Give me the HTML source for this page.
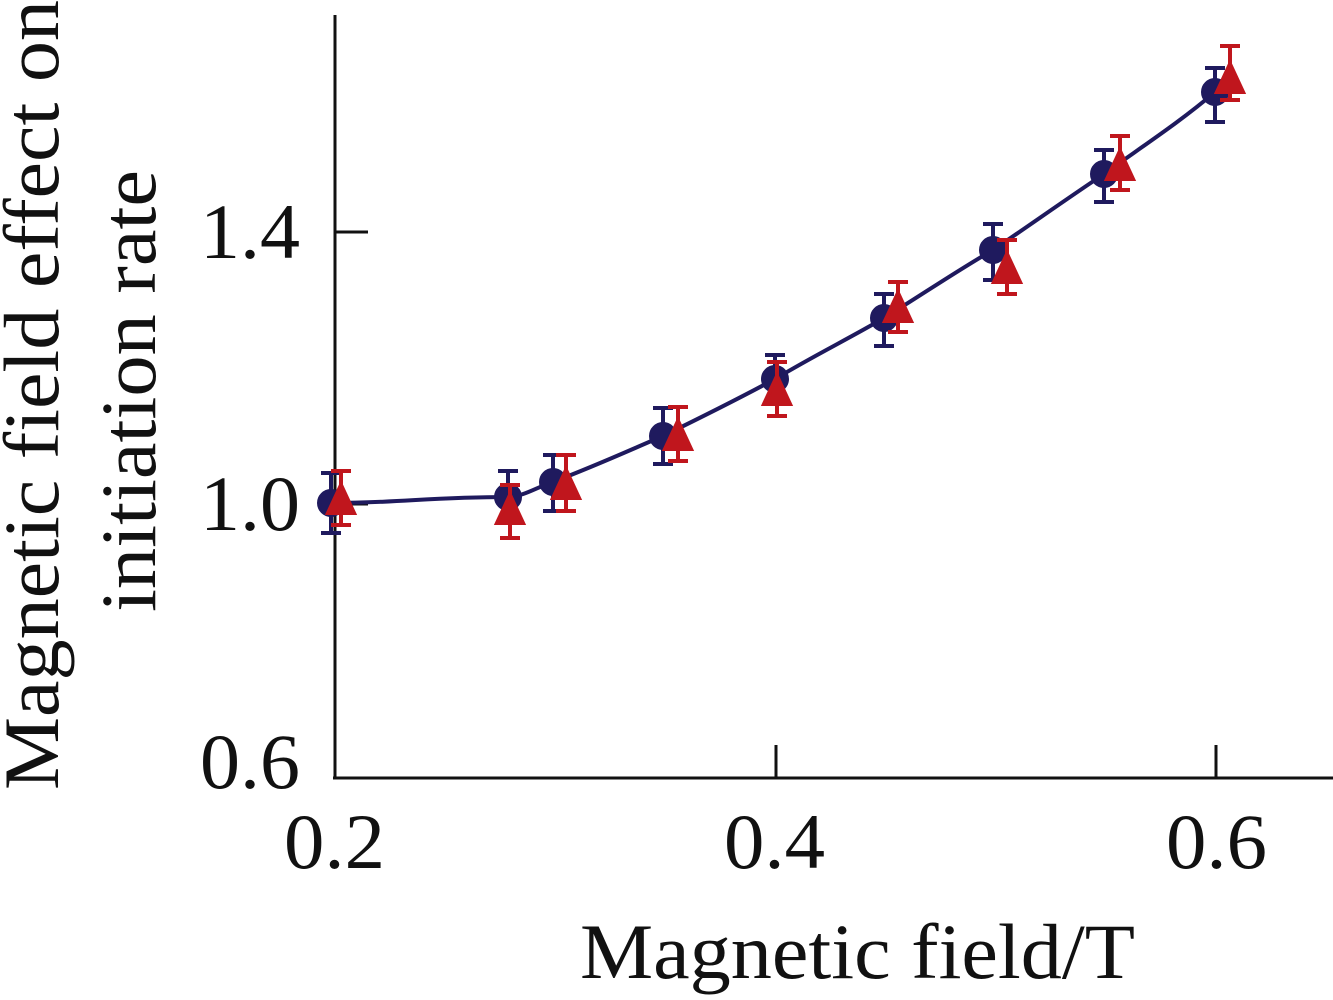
<!DOCTYPE html>
<html><head><style>body{margin:0;background:#fff}</style></head><body>
<svg width="1333" height="995" xmlns="http://www.w3.org/2000/svg" font-family="Liberation Serif, serif">
<rect width="1333" height="995" fill="#fff"/>
<g stroke="#111" stroke-width="3" fill="none">
<line x1="335" y1="15" x2="335" y2="778"/>
<line x1="333" y1="778" x2="1333" y2="778"/>
<line x1="335" y1="232" x2="368" y2="232"/>
<line x1="335" y1="504" x2="368" y2="504"/>
<line x1="776" y1="778" x2="776" y2="745"/>
<line x1="1216" y1="778" x2="1216" y2="745"/>
</g>
<g font-size="78" fill="#111">
<text x="300" y="258" text-anchor="end" textLength="100" lengthAdjust="spacingAndGlyphs">1.4</text>
<text x="300" y="530" text-anchor="end" textLength="100" lengthAdjust="spacingAndGlyphs">1.0</text>
<text x="300" y="788" text-anchor="end" textLength="100" lengthAdjust="spacingAndGlyphs">0.6</text>
<text x="284" y="868" textLength="101" lengthAdjust="spacingAndGlyphs">0.2</text>
<text x="724" y="868" textLength="101" lengthAdjust="spacingAndGlyphs">0.4</text>
<text x="1166" y="868" textLength="101" lengthAdjust="spacingAndGlyphs">0.6</text>
<text x="580" y="978" textLength="555" lengthAdjust="spacingAndGlyphs">Magnetic field/T</text>
<text transform="translate(58,790) rotate(-90)" textLength="790" lengthAdjust="spacingAndGlyphs">Magnetic field effect on</text>
<text transform="translate(155,612) rotate(-90)" textLength="442" lengthAdjust="spacingAndGlyphs">initiation rate</text>
</g>
<path d="M332,503 C400,503 430,497 508,497 C525,496 535,488 553,482 C600,464 630,450 663,436 C710,413 740,398 775,379 C815,355 850,338 884,318 C920,296 955,272 993,250 C1030,225 1065,200 1104,174 C1140,148 1180,122 1215,92" stroke="#1f1a5e" stroke-width="4" fill="none"/>
<g stroke="#1f1a5e" stroke-width="4" fill="#1f1a5e">
<path d="M331,473V533M321,473H341M321,533H341"/><circle cx="331" cy="503" r="12"/>
<path d="M508,471V523M498,471H518M498,523H518"/><circle cx="508" cy="497" r="12"/>
<path d="M553,455V511M543,455H563M543,511H563"/><circle cx="553" cy="482" r="12"/>
<path d="M663,408V464M653,408H673M653,464H673"/><circle cx="663" cy="436" r="12"/>
<path d="M775,355V403M765,355H785M765,403H785"/><circle cx="775" cy="379" r="12"/>
<path d="M884,294V346M874,294H894M874,346H894"/><circle cx="884" cy="318" r="12"/>
<path d="M993,224V280M983,224H1003M983,280H1003"/><circle cx="993" cy="250" r="12"/>
<path d="M1104,150V202M1094,150H1114M1094,202H1114"/><circle cx="1104" cy="174" r="12"/>
<path d="M1215,68V122M1205,68H1225M1205,122H1225"/><circle cx="1215" cy="92" r="12"/>
</g>
<g stroke="#c0161d" stroke-width="4" fill="#c0161d">
<path d="M341,471V525M331,471H351M331,525H351"/><path d="M341,485L354,513L328,513Z"/>
<path d="M510,485V538M500,485H520M500,538H520"/><path d="M510,495L523,523L497,523Z"/>
<path d="M566,455V511M556,455H576M556,511H576"/><path d="M566,470L579,498L553,498Z"/>
<path d="M678,407V461M668,407H688M668,461H688"/><path d="M678,421L691,449L665,449Z"/>
<path d="M777,362V416M767,362H787M767,416H787"/><path d="M777,376L790,404L764,404Z"/>
<path d="M898,282V332M888,282H908M888,332H908"/><path d="M898,293L911,321L885,321Z"/>
<path d="M1007,240V294M997,240H1017M997,294H1017"/><path d="M1007,254L1020,282L994,282Z"/>
<path d="M1120,136V190M1110,136H1130M1110,190H1130"/><path d="M1120,151L1133,179L1107,179Z"/>
<path d="M1230,46V100M1220,46H1240M1220,100H1240"/><path d="M1230,64L1243,92L1217,92Z"/>
</g>
</svg>
</body></html>
